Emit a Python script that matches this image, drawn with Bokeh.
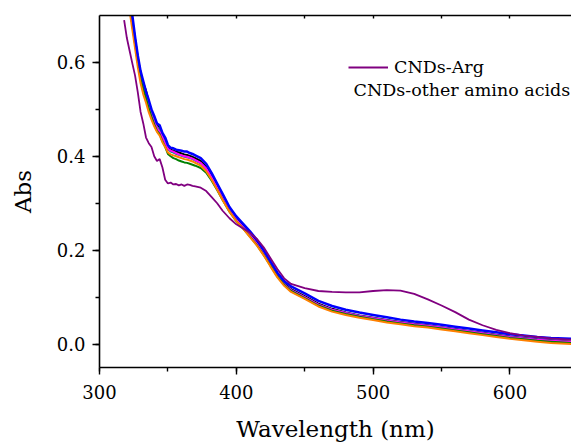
from bokeh.plotting import figure
from bokeh.models import (Range1d, LinearAxis, SingleIntervalTicker, FixedTicker,
                          NumeralTickFormatter, Legend, LegendItem, Label)
from bokeh.embed import file_html
from bokeh.resources import INLINE

wavelength = [318, 320, 322, 324, 326, 328, 330, 332, 334, 336,
              338, 340, 342, 344, 346, 348, 350, 352, 354, 356,
              358, 360, 362, 364, 366, 368, 370, 374, 378, 382,
              386, 390, 395, 400, 405, 410, 415, 420, 425, 430,
              435, 440, 450, 460, 470, 480, 490, 500, 510, 520,
              530, 540, 550, 560, 570, 580, 590, 600, 610, 620,
              630, 645]

abs_arg = [0.690, 0.652, 0.625, 0.598, 0.572, 0.536, 0.495, 0.470, 0.440, 0.428,
           0.420, 0.400, 0.390, 0.394, 0.376, 0.350, 0.342, 0.344, 0.340, 0.341,
           0.338, 0.340, 0.337, 0.340, 0.339, 0.337, 0.336, 0.333, 0.326, 0.313,
           0.300, 0.284, 0.268, 0.255, 0.246, 0.237, 0.224, 0.206, 0.183, 0.160,
           0.140, 0.128, 0.119, 0.113, 0.111, 0.110, 0.110, 0.113, 0.115, 0.114,
           0.107, 0.095, 0.082, 0.068, 0.052, 0.040, 0.030, 0.023, 0.018, 0.015,
           0.012, 0.009]

abs_blue = [0.820, 0.780, 0.740, 0.700, 0.655, 0.615, 0.582, 0.560, 0.538, 0.520,
            0.500, 0.486, 0.470, 0.466, 0.450, 0.440, 0.424, 0.418, 0.417, 0.414,
            0.413, 0.412, 0.410, 0.410, 0.407, 0.405, 0.402, 0.396, 0.384, 0.364,
            0.342, 0.320, 0.292, 0.272, 0.256, 0.240, 0.222, 0.200, 0.176, 0.152,
            0.134, 0.123, 0.108, 0.092, 0.081, 0.073, 0.067, 0.062, 0.057, 0.052,
            0.048, 0.045, 0.041, 0.037, 0.033, 0.029, 0.025, 0.021, 0.018, 0.015,
            0.013, 0.011]

abs_black = [0.810, 0.770, 0.730, 0.690, 0.650, 0.610, 0.578, 0.556, 0.540, 0.515,
             0.498, 0.482, 0.468, 0.462, 0.446, 0.434, 0.420, 0.414, 0.412, 0.410,
             0.408, 0.406, 0.404, 0.403, 0.401, 0.399, 0.396, 0.390, 0.378, 0.358,
             0.336, 0.314, 0.288, 0.268, 0.252, 0.235, 0.217, 0.196, 0.172, 0.148,
             0.129, 0.117, 0.102, 0.086, 0.075, 0.067, 0.061, 0.056, 0.051, 0.047,
             0.043, 0.040, 0.036, 0.032, 0.028, 0.024, 0.020, 0.016, 0.013, 0.010,
             0.008, 0.005]

abs_teal = [0.800, 0.765, 0.725, 0.685, 0.645, 0.605, 0.572, 0.550, 0.532, 0.510,
            0.492, 0.478, 0.462, 0.456, 0.442, 0.430, 0.415, 0.410, 0.408, 0.405,
            0.403, 0.401, 0.399, 0.398, 0.396, 0.394, 0.391, 0.385, 0.373, 0.354,
            0.332, 0.310, 0.285, 0.265, 0.249, 0.232, 0.214, 0.193, 0.169, 0.145,
            0.127, 0.115, 0.100, 0.084, 0.073, 0.066, 0.060, 0.055, 0.050, 0.046,
            0.042, 0.039, 0.035, 0.031, 0.027, 0.023, 0.019, 0.015, 0.012, 0.009,
            0.007, 0.004]

abs_magenta = [0.790, 0.760, 0.720, 0.680, 0.640, 0.600, 0.566, 0.546, 0.528, 0.505,
               0.488, 0.474, 0.460, 0.452, 0.440, 0.428, 0.416, 0.412, 0.410, 0.407,
               0.404, 0.402, 0.400, 0.399, 0.397, 0.395, 0.392, 0.386, 0.374, 0.355,
               0.333, 0.311, 0.285, 0.265, 0.249, 0.232, 0.214, 0.193, 0.169, 0.145,
               0.127, 0.115, 0.100, 0.084, 0.073, 0.066, 0.060, 0.055, 0.050, 0.046,
               0.042, 0.039, 0.035, 0.031, 0.027, 0.023, 0.019, 0.015, 0.012, 0.009,
               0.007, 0.004]

abs_green = [0.800, 0.760, 0.720, 0.680, 0.640, 0.600, 0.566, 0.544, 0.524, 0.502,
             0.484, 0.468, 0.454, 0.447, 0.432, 0.420, 0.405, 0.400, 0.396, 0.394,
             0.391, 0.389, 0.387, 0.386, 0.384, 0.382, 0.380, 0.375, 0.365, 0.348,
             0.328, 0.307, 0.282, 0.262, 0.246, 0.229, 0.211, 0.190, 0.167, 0.144,
             0.126, 0.113, 0.098, 0.082, 0.071, 0.064, 0.058, 0.053, 0.048, 0.044,
             0.040, 0.037, 0.033, 0.029, 0.025, 0.021, 0.017, 0.013, 0.010, 0.007,
             0.005, 0.002]

abs_orange = [0.790, 0.750, 0.710, 0.670, 0.630, 0.590, 0.556, 0.532, 0.514, 0.494,
              0.478, 0.464, 0.452, 0.444, 0.430, 0.420, 0.408, 0.404, 0.402, 0.400,
              0.398, 0.396, 0.394, 0.393, 0.391, 0.389, 0.386, 0.380, 0.368, 0.350,
              0.329, 0.307, 0.282, 0.262, 0.246, 0.228, 0.210, 0.189, 0.165, 0.142,
              0.124, 0.111, 0.096, 0.080, 0.069, 0.062, 0.056, 0.051, 0.046, 0.042,
              0.038, 0.035, 0.031, 0.027, 0.023, 0.019, 0.015, 0.011, 0.008, 0.005,
              0.002, 0.000]

x_ticks_interval = 100
y_ticks_interval = 0.2
top_axis_ticks = [350, 400, 450, 500, 550, 600]
legend_labels = ["CNDs-Arg", "CNDs-other amino acids"]

FONT = "DejaVu Serif"

p = figure(width=571, height=447, output_backend="svg", toolbar_location=None,
           x_range=Range1d(300, 645), y_range=Range1d(-0.05, 0.70),
           min_border_left=99, min_border_top=15, min_border_bottom=80,
           min_border_right=0, x_axis_location=None, y_axis_location=None)
p.outline_line_color = None
p.xgrid.visible = False
p.ygrid.visible = False
p.background_fill_color = "white"
p.border_fill_color = "white"

xt = SingleIntervalTicker(interval=x_ticks_interval, num_minor_ticks=2)
yt = SingleIntervalTicker(interval=y_ticks_interval, num_minor_ticks=2)

xaxis = LinearAxis(ticker=xt, axis_label="Wavelength (nm)")
yaxis = LinearAxis(ticker=yt, axis_label="Abs", formatter=NumeralTickFormatter(format="0.0"))
top = LinearAxis(ticker=FixedTicker(ticks=[], minor_ticks=top_axis_ticks),
                 major_label_standoff=0, major_tick_out=0, major_tick_in=0,
                 minor_tick_out=0, minor_tick_in=3)

for ax in (xaxis, yaxis, top):
    ax.axis_line_width = 1.6
    ax.axis_line_color = "black"
    ax.major_tick_line_width = 1.4
    ax.minor_tick_line_width = 1.4
    ax.major_tick_line_color = "black"
    ax.minor_tick_line_color = "black"

for ax in (xaxis, yaxis):
    ax.major_tick_out = 7
    ax.major_tick_in = 0
    ax.minor_tick_out = 4
    ax.minor_tick_in = 0
    ax.major_label_text_font = FONT
    ax.major_label_text_font_size = "18px"
    ax.major_label_text_color = "black"
    ax.axis_label_text_font = FONT
    ax.axis_label_text_font_size = "23px"
    ax.axis_label_text_font_style = "normal"
    ax.axis_label_text_color = "black"

xaxis.major_label_standoff = 10
xaxis.axis_label_standoff = 14
yaxis.major_label_standoff = 7
yaxis.axis_label_standoff = 18

p.add_layout(xaxis, "below")
p.add_layout(yaxis, "left")
p.add_layout(top, "above")

others = [(abs_black, "black"), (abs_teal, "#008b8b"), (abs_magenta, "#ff00ff"),
          (abs_green, "#008000"), (abs_orange, "#ff8000")]
for ys, c in others:
    p.line(wavelength, ys, line_color=c, line_width=2)
p.line(wavelength, abs_blue, line_color="#0000ff", line_width=2.5)
arg = p.line(wavelength, abs_arg, line_color="#800080", line_width=1.8)

legend = Legend(items=[LegendItem(label=legend_labels[0], renderers=[arg])],
                location=(249, 290), orientation="vertical",
                border_line_color=None, background_fill_alpha=0,
                padding=0, margin=0, spacing=0,
                glyph_width=40, glyph_height=20, label_standoff=6,
                label_text_font=FONT, label_text_font_size="17.5px",
                label_text_color="black")
p.add_layout(legend)

p.add_layout(Label(x=254, y=278, x_units="screen", y_units="screen",
                   text=legend_labels[1], text_font=FONT, text_font_size="17.5px",
                   text_baseline="middle", text_color="black"))

open("out.html", "w").write(file_html(p, INLINE))
